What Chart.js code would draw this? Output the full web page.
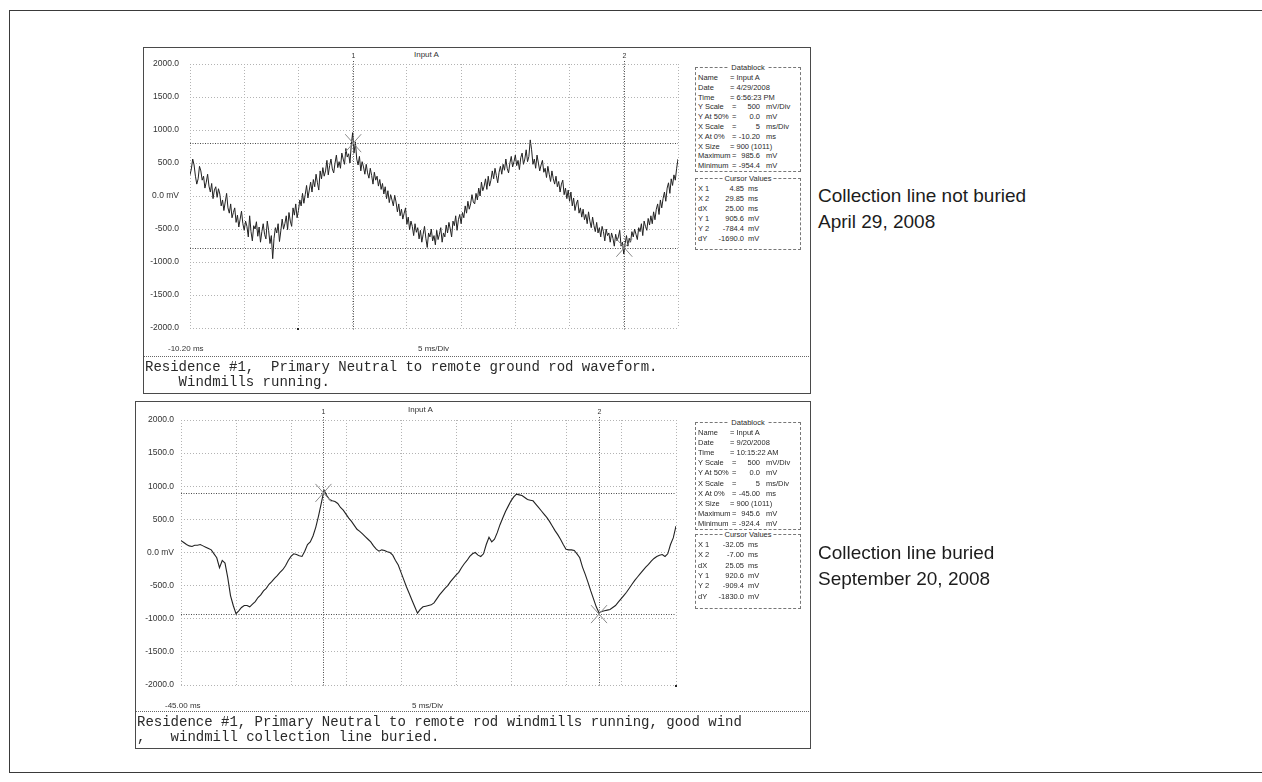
<!DOCTYPE html>
<html>
<head>
<meta charset="utf-8">
<script src="https://cdn.jsdelivr.net/npm/chart.js@4.4.1/dist/chart.umd.min.js"></script>
<style>
    body{margin:0;background:#fff;width:1262px;height:782px;overflow:hidden;position:relative;font-family:"Liberation Sans",Arial,sans-serif;}
    .abs{position:absolute;}
    #frame{left:9px;top:10px;width:1300px;height:761px;border:1.5px solid #3a3a3a;border-right:none;}
    .panel{border:1px solid #4a4a4a;}
    .tiny{font-size:8px;color:#333;white-space:nowrap;line-height:8px;}
    .sep{border-top:1px dotted #666;height:0;}
    .foot{font-family:"Liberation Mono","Courier New",monospace;font-size:14px;line-height:15px;color:#2a2a2a;white-space:pre;}
    .box{border:1px dashed #777;font-size:7.5px;color:#2a2a2a;}
    .box .ttl{position:absolute;top:-5px;left:0;right:0;text-align:center;line-height:9px;}
    .box .ttl span{background:#fff;padding:0 2px;}
    .row{position:absolute;left:0;right:0;height:10px;line-height:10px;white-space:nowrap;}
    .row span{position:absolute;top:0;}
    .side{font-size:19px;color:#1c1c1c;line-height:26px;white-space:nowrap;}
</style>
</head>
<body>
<div id="frame" class="abs"></div>

<!-- top scope -->
<div class="abs panel" style="left:143px;top:47px;width:666px;height:345px;"></div>
<div class="abs tiny" style="left:414px;top:51px;">Input A</div>
<canvas id="scopeTop" class="abs" width="545" height="300" style="left:143px;top:47px;"></canvas>
<div class="abs tiny" style="left:168px;top:345px;">-10.20 ms</div>
<div class="abs tiny" style="left:418px;top:345px;">5 ms/Div</div>
<div class="abs sep" style="left:144px;top:356px;width:665px;"></div>
<div class="abs foot" style="left:145px;top:360px;">Residence #1,  Primary Neutral to remote ground rod waveform.
    Windmills running.</div>
<div id="blockTop" class="abs box" style="left:695px;top:67px;width:104px;height:103px;"></div>
<div id="cursTop" class="abs box" style="left:695px;top:178px;width:104px;height:70px;"></div>

<!-- lower scope -->
<div class="abs panel" style="left:135px;top:401px;width:674px;height:346px;"></div>
<div class="abs tiny" style="left:408px;top:406px;">Input A</div>
<canvas id="scopeLow" class="abs" width="545" height="300" style="left:135px;top:401px;"></canvas>
<div class="abs tiny" style="left:165px;top:702px;">-45.00 ms</div>
<div class="abs tiny" style="left:412px;top:702px;">5 ms/Div</div>
<div class="abs sep" style="left:136px;top:711px;width:673px;"></div>
<div class="abs foot" style="left:137px;top:715px;">Residence #1, Primary Neutral to remote rod windmills running, good wind
,   windmill collection line buried.</div>
<div id="blockLow" class="abs box" style="left:695px;top:422px;width:104px;height:106px;"></div>
<div id="cursLow" class="abs box" style="left:695px;top:534px;width:104px;height:73px;"></div>

<!-- captions -->
<div class="abs side" style="left:818px;top:183px;">Collection line not buried<br>April 29, 2008</div>
<div class="abs side" style="left:818px;top:540px;">Collection line buried<br>September 20, 2008</div>

<script>
// ---- top trace: 4/29/2008, -10.20 ms start, read every 0.125 ms
const topStart = -10.2;
const topStep = 0.125;
const topTrace = [
    320, 410, 560, 470, 300, 180, 260, 450, 380, 240,
    300, 120, 210, 330, 150, 60, 190, -40, 90, 140,
    -20, 110, 30, -150, -60, -220, -90, 40, -180, -260,
    -120, -330, -250, -180, -400, -290, -470, -350, -230, -420,
    -520, -380, -460, -620, -300, -540, -680, -450, -500, -390,
    -610, -470, -700, -540, -420, -580, -650, -380, -520, -720,
    -600, -950, -640, -480, -560, -420, -690, -530, -350, -500,
    -420, -300, -510, -250, -380, -460, -180, -290, -120, -330,
    -220, -60, -150, 40, -110, 20, 160, -30, 90, 210,
    60, 250, 140, 330, 200, 90, 380, 260, 430, 300,
    380, 540, 320, 460, 560, 410, 350, 500, 620, 430,
    520, 420, 650, 560, 480, 720, 590, 640, 500, 780,
    960, 650, 820, 560, 470, 600, 380, 520, 440, 330,
    480, 350, 270, 420, 310, 180, 360, 240, 300, 150,
    250, 100, 190, 30, 140, -40, 80, -100, 20, -60,
    -150, 10, -90, -240, -120, -300, -200, -350, -260, -180,
    -430, -320, -510, -380, -460, -600, -420, -550, -480, -650,
    -520, -700, -580, -460, -640, -780, -560, -620, -500, -680,
    -600, -740, -520, -660, -580, -480, -700, -560, -620, -440,
    -560, -400, -500, -620, -380, -450, -300, -520, -360, -280,
    -420, -250, -330, -150, -260, -80, -200, -120, 20, -90,
    -120, 40, -60, 120, 0, 210, 80, 150, 260, 100,
    300, 150, 240, 380, 260, 420, 310, 200, 360, 450,
    330, 480, 390, 560, 420, 350, 500, 600, 440, 520,
    620, 460, 540, 400, 580, 650, 480, 560, 700, 520,
    600, 850, 700, 480, 560, 420, 620, 500, 380, 470,
    540, 360, 420, 280, 450, 330, 220, 380, 260, 180,
    300, 140, 220, 60, 180, 240, 20, 120, -40, 90,
    -80, 60, -150, -30, -220, -120, -60, -260, -180, -320,
    -200, -360, -280, -420, -240, -380, -480, -320, -450, -540,
    -400, -560, -480, -620, -460, -540, -680, -500, -600, -560,
    -700, -560, -640, -760, -580, -680, -620, -520, -760, -700,
    -880, -720, -600, -760, -640, -700, -540, -620, -500, -580,
    -660, -480, -540, -420, -600, -380, -460, -520, -340, -440,
    -300, -420, -240, -360, -200, -120, -280, -60, -180, -40,
    60, -80, 120, 200, 40, 260, 160, 320, 240, 420,
    560
];
const topGrid = [-10.2, -5.2, -0.2, 4.8, 9.8, 14.8, 19.8, 24.8, 29.8, 34.8];
const topCursorX = [4.85, 29.85];
const topCursorY = [800, -784.4];
const topMarkY = [800, -784.4];

// ---- lower trace: 9/20/2008, -45.00 ms start, read every 0.25 ms
const lowStart = -45;
const lowStep = 0.25;
const lowTrace = [
    180, 150, 120, 100, 90, 110, 110, 120, 100, 80,
    60, 40, -20, -80, -230, -120, -160, -380, -650, -800,
    -924, -880, -830, -800, -800, -820, -780, -740, -680, -640,
    -580, -540, -480, -440, -390, -350, -300, -260, -200, -120,
    -60, -20, -30, -50, -60, 20, 120, 160, 250, 380,
    550, 740, 940, 860, 800, 780, 770, 740, 680, 640,
    580, 520, 470, 410, 350, 320, 280, 240, 200, 160,
    100, 50, 20, 40, 30, 10, 0, -40, -120, -190,
    -300, -410, -520, -620, -720, -820, -915, -860, -820, -810,
    -800, -790, -760, -700, -640, -590, -540, -500, -440, -390,
    -340, -300, -230, -170, -120, -60, -20, 0, -40, -60,
    -20, 120, 230, 160, 200, 300, 420, 520, 620, 700,
    780, 840, 880, 870, 860, 830, 800, 790, 780, 730,
    680, 630, 580, 530, 470, 400, 330, 270, 200, 120,
    50, 40, 40, 30, -20, -80, -220, -330, -450, -580,
    -700, -820, -909, -890, -880, -870, -860, -830, -800, -750,
    -700, -650, -600, -540, -480, -420, -370, -320, -270, -220,
    -180, -130, -90, -60, -40, -30, -60, -20, 120, 220,
    400
];
const lowGrid = [-45, -40, -35, -30, -25, -20, -15, -10, -5, 0];
const lowCursorX = [-32.05, -7.00];
const lowCursorY = [900, -930];
const lowMarkY = [900, -930];

const yTicks = [-2000, -1500, -1000, -500, 0, 500, 1000, 1500, 2000];

// ---- datablocks
const topBlock = [
    ['Name', 'Input A', ''], ['Date', '4/29/2008', ''], ['Time', '6:56:23 PM', ''],
    ['Y Scale', '500', 'mV/Div'], ['Y At 50%', '0.0', 'mV'], ['X Scale', '5', 'ms/Div'],
    ['X At 0%', '-10.20', 'ms'], ['X Size', '900 (1011)', ''], ['Maximum', '985.6', 'mV'], ['Minimum', '-954.4', 'mV']
];
const topCursor = [
    ['X 1', '4.85', 'ms'], ['X 2', '29.85', 'ms'], ['dX', '25.00', 'ms'],
    ['Y 1', '905.6', 'mV'], ['Y 2', '-784.4', 'mV'], ['dY', '-1690.0', 'mV']
];
const lowBlock = [
    ['Name', 'Input A', ''], ['Date', '9/20/2008', ''], ['Time', '10:15:22 AM', ''],
    ['Y Scale', '500', 'mV/Div'], ['Y At 50%', '0.0', 'mV'], ['X Scale', '5', 'ms/Div'],
    ['X At 0%', '-45.00', 'ms'], ['X Size', '900 (1011)', ''], ['Maximum', '945.6', 'mV'], ['Minimum', '-924.4', 'mV']
];
const lowCursor = [
    ['X 1', '-32.05', 'ms'], ['X 2', '-7.00', 'ms'], ['dX', '25.05', 'ms'],
    ['Y 1', '920.6', 'mV'], ['Y 2', '-909.4', 'mV'], ['dY', '-1830.0', 'mV']
];

function fillBox(id, title, rows, isCursor, rowH) {
    const box = document.getElementById(id);
    box.innerHTML = '<div class="ttl"><span>' + title + '</span></div>';
    rows.forEach((r, i) => {
        const d = document.createElement('div');
        d.className = 'row';
        d.style.top = (5 + i * rowH) + 'px';
        let h = '<span style="left:2px">' + r[0] + '</span>';
        if (isCursor) {
            h += '<span style="right:56px">' + r[1] + '</span><span style="left:52px">' + r[2] + '</span>';
        } else if (r[2] === '') {
            h += '<span style="left:34px">= ' + r[1] + '</span>';
        } else {
            h += '<span style="left:36px">=</span><span style="right:40px">' + r[1] + '</span><span style="left:70px">' + r[2] + '</span>';
        }
        d.innerHTML = h;
        box.appendChild(d);
    });
}
fillBox('blockTop', 'Datablock', topBlock, false, 9.8);
fillBox('cursTop', 'Cursor Values', topCursor, true, 10);
fillBox('blockLow', 'Datablock', lowBlock, false, 10.1);
fillBox('cursLow', 'Cursor Values', lowCursor, true, 10.3);

// cursor lines, cursor numbers and the X markers of the scope screen
const cursorPlugin = {
    id: 'cursors',
    afterDatasetsDraw(chart, args, o) {
        const {ctx, chartArea: a, scales: {x, y}} = chart;
        ctx.save();
        ctx.lineWidth = 1;
        ctx.strokeStyle = '#4a4a4a';
        ctx.setLineDash([1, 1.5]);
        o.ys.forEach(v => {
            const py = Math.round(y.getPixelForValue(v)) + 0.5;
            ctx.beginPath(); ctx.moveTo(a.left, py); ctx.lineTo(a.right, py); ctx.stroke();
        });
        o.xs.forEach((v, i) => {
            const px = Math.round(x.getPixelForValue(v)) + 0.5;
            ctx.beginPath(); ctx.moveTo(px, a.top - 3); ctx.lineTo(px, a.bottom + 2); ctx.stroke();
            ctx.fillStyle = '#333';
            ctx.font = '7px "Liberation Sans"';
            ctx.textAlign = 'center';
            ctx.fillText(String(i + 1), px, a.top - 6);
        });
        ctx.setLineDash([]);
        ctx.strokeStyle = '#8a8a8a';
        o.xs.forEach((v, i) => {
            const px = x.getPixelForValue(v), py = y.getPixelForValue(o.marks[i]);
            ctx.beginPath();
            ctx.moveTo(px - 8, py - 9); ctx.lineTo(px + 8, py + 9);
            ctx.moveTo(px + 8, py - 9); ctx.lineTo(px - 8, py + 9);
            ctx.stroke();
        });
        ctx.fillStyle = '#222';
        o.dots.forEach(d => {
            ctx.fillRect(Math.round(x.getPixelForValue(d[0])) - 1, Math.round(y.getPixelForValue(d[1])), 2, 2);
        });
        ctx.restore();
    }
};

function makeScope(id, start, step, trace, grid, cx, cy, marks, dots, pad, lineW) {
    const pts = trace.map((v, i) => ({x: +(start + step * i).toFixed(3), y: v}));
    return new Chart(document.getElementById(id), {
        type: 'line',
        data: {
            datasets: [{
                data: pts,
                borderColor: '#222',
                borderWidth: lineW,
                pointRadius: 0,
                tension: 0
            }]
        },
        options: {
            responsive: false,
            animation: false,
            devicePixelRatio: 1,
            layout: {padding: {top: pad.top, bottom: pad.bottom, left: 0, right: pad.right}},
            plugins: {
                legend: {display: false},
                tooltip: {enabled: false},
                cursors: {xs: cx, ys: cy, marks: marks, dots: dots}
            },
            scales: {
                x: {
                    type: 'linear',
                    min: grid[0],
                    max: grid[grid.length - 1],
                    afterBuildTicks: s => { s.ticks = grid.map(v => ({value: v})); },
                    afterFit: s => { s.height = 0; },
                    ticks: {display: false},
                    grid: {color: '#b3b3b3', drawTicks: false},
                    border: {display: false, dash: [1, 2]}
                },
                y: {
                    min: -2000,
                    max: 2000,
                    afterBuildTicks: s => { s.ticks = yTicks.map(v => ({value: v})); },
                    afterFit: s => { s.width = pad.left; },
                    ticks: {
                        padding: pad.labelGap,
                        color: '#333',
                        font: {family: 'Liberation Sans', size: 8.5},
                        callback: v => v === 0 ? '0.0 mV' : v.toFixed(1)
                    },
                    grid: {color: '#b3b3b3', drawTicks: false},
                    border: {display: false, dash: [1, 2]}
                }
            }
        },
        plugins: [cursorPlugin]
    });
}

makeScope('scopeTop', topStart, topStep, topTrace, topGrid, topCursorX, topCursorY, topMarkY,
    [[-0.2, -2000]], {top: 17, bottom: 19, right: 10, left: 47, labelGap: 11}, 1);
makeScope('scopeLow', lowStart, lowStep, lowTrace, lowGrid, lowCursorX, lowCursorY, lowMarkY,
    [[0, -2000]], {top: 19, bottom: 16, right: 4, left: 46, labelGap: 7}, 1.1);
</script>
</body>
</html>
